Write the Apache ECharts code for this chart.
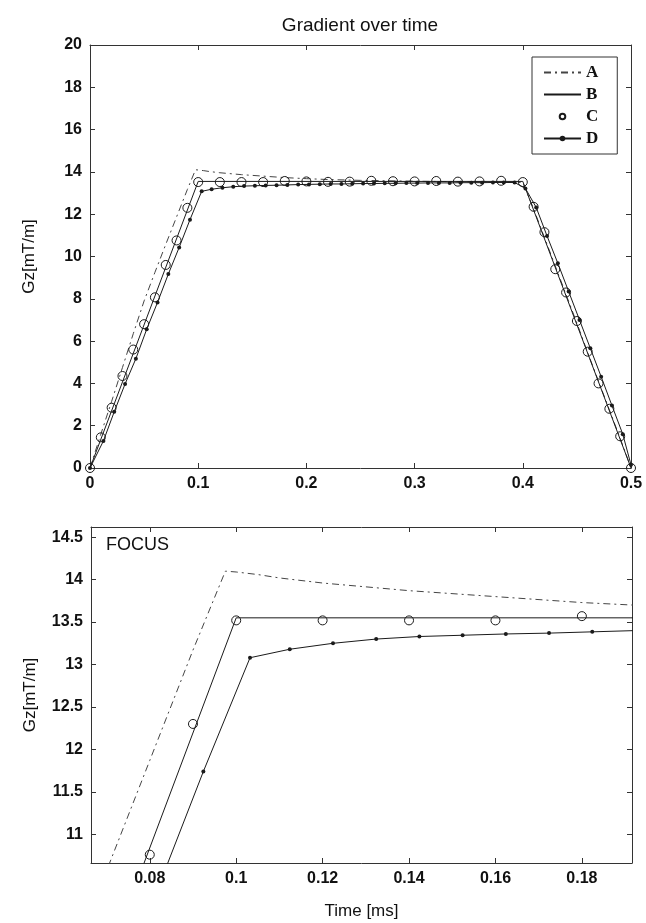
<!DOCTYPE html>
<html>
<head>
<meta charset="utf-8">
<script src="https://cdn.jsdelivr.net/npm/echarts@6/dist/echarts.min.js"></script>
<style>
  html, body { margin: 0; padding: 0; background: #fff; }
  #chart { width: 646px; height: 923px; }
</style>
</head>
<body>
<div id="chart"></div>
<script>
// Gradient waveform Gz(t) for four variants, full view and zoomed view

// Variant A (dash-dot)
const timeA = [0, 0.01, 0.02, 0.03, 0.04, 0.05, 0.06, 0.07, 0.08, 0.09, 0.0975, 0.1, 0.105, 0.11, 0.12, 0.14, 0.16, 0.18, 0.2, 0.22, 0.25, 0.3, 0.35, 0.4, 0.41, 0.42, 0.43, 0.44, 0.45, 0.46, 0.47, 0.48, 0.49, 0.5];
const valA  = [0, 1.6, 3.15, 4.75, 6.35, 7.9, 9.25, 10.57, 11.87, 13.17, 14.1, 14.09, 14.06, 14.02, 13.96, 13.87, 13.8, 13.73, 13.68, 13.64, 13.6, 13.56, 13.53, 13.5, 12.25, 10.9, 9.55, 8.2, 6.85, 5.45, 4.1, 2.75, 1.4, 0];

// Variant B (solid trapezoid)
const timeB = [0, 0.1, 0.4, 0.5];
const valB  = [0, 13.55, 13.55, 0];

// Variant C (open circles)
const timeC = [0, 0.01, 0.02, 0.03, 0.04, 0.05, 0.06, 0.07, 0.08, 0.09, 0.1,
               0.12, 0.14, 0.16, 0.18, 0.2, 0.22, 0.24, 0.26, 0.28, 0.3, 0.32, 0.34, 0.36, 0.38, 0.4,
               0.41, 0.42, 0.43, 0.44, 0.45, 0.46, 0.47, 0.48, 0.49, 0.5];
const valC  = [0, 1.45, 2.85, 4.35, 5.6, 6.8, 8.07, 9.6, 10.76, 12.3, 13.52,
               13.52, 13.52, 13.52, 13.57, 13.55, 13.53, 13.54, 13.58, 13.56, 13.55, 13.57, 13.54, 13.55, 13.58, 13.52,
               12.35, 11.15, 9.4, 8.3, 6.95, 5.5, 4.0, 2.8, 1.5, 0];

// Variant D (solid line with dots)
const timeD = [0, 0.0124, 0.0224, 0.0324, 0.0424, 0.0524, 0.0624, 0.0724, 0.0824, 0.0924, 0.1032,
               0.1124, 0.1224, 0.1324, 0.1424, 0.1524, 0.1624, 0.1724, 0.1824, 0.1924, 0.2024,
               0.2124, 0.2224, 0.2324, 0.2424, 0.2524, 0.2624, 0.2724, 0.2824, 0.2924, 0.3024,
               0.3124, 0.3224, 0.3324, 0.3424, 0.3524, 0.3624, 0.3724, 0.3824, 0.3924, 0.4024,
               0.4124, 0.4224, 0.4324, 0.4424, 0.4524, 0.4624, 0.4724, 0.4824, 0.4924, 0.5];
const valD  = [0, 1.28, 2.66, 3.97, 5.17, 6.56, 7.83, 9.17, 10.43, 11.74, 13.08,
               13.18, 13.25, 13.3, 13.33, 13.345, 13.36, 13.37, 13.385, 13.4, 13.41,
               13.42, 13.43, 13.43, 13.44, 13.45, 13.45, 13.46, 13.46, 13.47, 13.47,
               13.48, 13.48, 13.48, 13.49, 13.49, 13.49, 13.5, 13.5, 13.5, 13.22,
               12.32, 10.97, 9.68, 8.34, 7.0, 5.66, 4.32, 2.95, 1.6, 0.15];

// Axis ticks
const xTicksFull  = [0, 0.1, 0.2, 0.3, 0.4, 0.5];
const yTicksFull  = [0, 2, 4, 6, 8, 10, 12, 14, 16, 18, 20];
const xTicksFocus = [0.08, 0.1, 0.12, 0.14, 0.16, 0.18];
const yTicksFocus = [11, 11.5, 12, 12.5, 13, 13.5, 14, 14.5];
const xRangeFocus = [0.0664, 0.1916];
const yRangeFocus = [10.662, 14.62];

const zip = (t, v) => t.map((x, i) => [x, v[i]]);

const ink = '#1a1a1a';
const tickFont = { color: '#111', fontSize: 16, fontWeight: 'bold', fontFamily: 'Liberation Sans, Arial, sans-serif' };
const nameFont = { color: '#111', fontSize: 17, fontFamily: 'Liberation Sans, Arial, sans-serif' };

function xAx(grid, pos, ticks, range, showLabels, name) {
  return {
    type: 'value', gridIndex: grid, position: pos,
    min: range[0], max: range[1],
    axisLine: { show: true, onZero: false, lineStyle: { color: '#333', width: 1 } },
    axisTick: { show: true, inside: true, length: 5, customValues: ticks, lineStyle: { color: '#333' } },
    axisLabel: { show: showLabels, customValues: ticks, margin: 8, formatter: v => String(v), ...tickFont },
    splitLine: { show: false },
    name: name || '', nameLocation: 'middle', nameGap: 40, nameTextStyle: nameFont
  };
}
function yAx(grid, pos, ticks, range, showLabels, name) {
  return {
    type: 'value', gridIndex: grid, position: pos,
    min: range[0], max: range[1],
    axisLine: { show: true, onZero: false, lineStyle: { color: '#333', width: 1 } },
    axisTick: { show: true, inside: true, length: 5, customValues: ticks, lineStyle: { color: '#333' } },
    axisLabel: { show: showLabels, customValues: ticks, margin: 8, formatter: v => String(v), ...tickFont },
    splitLine: { show: false },
    name: name || '', nameLocation: 'middle', nameGap: 52, nameRotate: 90, nameTextStyle: nameFont
  };
}

function seriesSet(xi, yi) {
  return [
    { name: 'A', type: 'line', xAxisIndex: xi, yAxisIndex: yi, data: zip(timeA, valA),
      symbol: 'none', lineStyle: { color: '#444', width: 1, type: [7, 4, 2, 4] }, itemStyle: { color: '#444' },
      animation: false, z: 2 },
    { name: 'B', type: 'line', xAxisIndex: xi, yAxisIndex: yi, data: zip(timeB, valB),
      symbol: 'none', lineStyle: { color: ink, width: 1 }, itemStyle: { color: ink }, animation: false, z: 3 },
    { name: 'C', type: 'line', xAxisIndex: xi, yAxisIndex: yi, data: zip(timeC, valC),
      symbol: 'circle', symbolSize: 9, showAllSymbol: true,
      lineStyle: { width: 0, opacity: 0 },
      itemStyle: { color: 'rgba(255,255,255,0)', borderColor: ink, borderWidth: 1 },
      animation: false, z: 4 },
    { name: 'D', type: 'line', xAxisIndex: xi, yAxisIndex: yi, data: zip(timeD, valD),
      symbol: 'circle', symbolSize: 4, showAllSymbol: true,
      lineStyle: { color: ink, width: 1 }, itemStyle: { color: ink }, animation: false, z: 5 }
  ];
}

const chart = echarts.init(document.getElementById('chart'), null, { renderer: 'canvas' });
chart.setOption({
  backgroundColor: '#fff',
  animation: false,
  graphic: [
    { type: 'text', x: 360, y: 26, style: { text: 'Gradient over time', fill: '#111', fontSize: 19,
      fontFamily: 'Liberation Sans, Arial, sans-serif', textAlign: 'center', textVerticalAlign: 'middle' } },
    { type: 'text', x: 106, y: 545, style: { text: 'FOCUS', fill: '#111', fontSize: 18,
      fontFamily: 'Liberation Sans, Arial, sans-serif', textAlign: 'left', textVerticalAlign: 'middle' } }
  ],
  legend: {
    data: [
      { name: 'A', itemStyle: { opacity: 0 } },
      { name: 'B', itemStyle: { opacity: 0 } },
      { name: 'C', lineStyle: { opacity: 0 } },
      { name: 'D' }
    ],
    orient: 'vertical', left: 532, top: 57,
    padding: [7, 19, 7, 11],
    itemWidth: 37, itemHeight: 7, itemGap: 5,
    borderColor: '#333', borderWidth: 1, backgroundColor: '#fff',
    selectedMode: false,
    textStyle: { color: '#111', fontSize: 17, fontWeight: 'bold', fontFamily: 'Liberation Serif, Times New Roman, serif' }
  },
  grid: [
    { left: 90, right: 15, top: 45, height: 423 },
    { left: 91, right: 14, top: 527, bottom: 60 }
  ],
  xAxis: [
    xAx(0, 'bottom', xTicksFull, [0, 0.5], true),
    xAx(0, 'top', xTicksFull, [0, 0.5], false),
    xAx(1, 'bottom', xTicksFocus, xRangeFocus, true, 'Time [ms]'),
    xAx(1, 'top', xTicksFocus, xRangeFocus, false)
  ],
  yAxis: [
    yAx(0, 'left', yTicksFull, [0, 20], true, 'Gz[mT/m]'),
    yAx(0, 'right', yTicksFull, [0, 20], false),
    yAx(1, 'left', yTicksFocus, yRangeFocus, true, 'Gz[mT/m]'),
    yAx(1, 'right', yTicksFocus, yRangeFocus, false)
  ],
  series: [...seriesSet(0, 0), ...seriesSet(2, 2)]
});
</script>
</body>
</html>
